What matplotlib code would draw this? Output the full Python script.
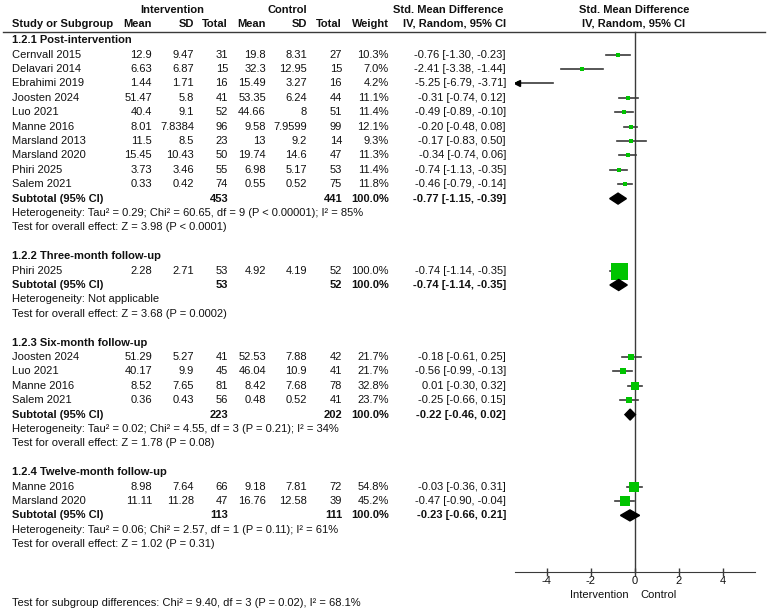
import matplotlib
matplotlib.use("Agg")
import matplotlib.pyplot as plt
from matplotlib.patches import Polygon

FONT_SIZE = 8.0
TEXT_COLOR = "#111111"
LINE_COLOR = "#3a3a3a"
BOX_COLOR = "#00c400"

# --- data -------------------------------------------------------------
subgroup_titles = ["1.2.1 Post-intervention", "1.2.2 Three-month follow-up",
                   "1.2.3 Six-month follow-up", "1.2.4 Twelve-month follow-up"]

study_names = [
    ["Cernvall 2015", "Delavari 2014", "Ebrahimi 2019", "Joosten 2024", "Luo 2021",
     "Manne 2016", "Marsland 2013", "Marsland 2020", "Phiri 2025", "Salem 2021"],
    ["Phiri 2025"],
    ["Joosten 2024", "Luo 2021", "Manne 2016", "Salem 2021"],
    ["Manne 2016", "Marsland 2020"],
]
int_mean = [["12.9", "6.63", "1.44", "51.47", "40.4", "8.01", "11.5", "15.45", "3.73", "0.33"],
            ["2.28"], ["51.29", "40.17", "8.52", "0.36"], ["8.98", "11.11"]]
int_sd = [["9.47", "6.87", "1.71", "5.8", "9.1", "7.8384", "8.5", "10.43", "3.46", "0.42"],
          ["2.71"], ["5.27", "9.9", "7.65", "0.43"], ["7.64", "11.28"]]
int_n = [[31, 15, 16, 41, 52, 96, 23, 50, 55, 74], [53], [41, 45, 81, 56], [66, 47]]
ctl_mean = [["19.8", "32.3", "15.49", "53.35", "44.66", "9.58", "13", "19.74", "6.98", "0.55"],
            ["4.92"], ["52.53", "46.04", "8.42", "0.48"], ["9.18", "16.76"]]
ctl_sd = [["8.31", "12.95", "3.27", "6.24", "8", "7.9599", "9.2", "14.6", "5.17", "0.52"],
          ["4.19"], ["7.88", "10.9", "7.68", "0.52"], ["7.81", "12.58"]]
ctl_n = [[27, 15, 16, 44, 51, 99, 14, 47, 53, 75], [52], [42, 41, 78, 41], [72, 39]]
weights = [[10.3, 7.0, 4.2, 11.1, 11.4, 12.1, 9.3, 11.3, 11.4, 11.8], [100.0],
           [21.7, 21.7, 32.8, 23.7], [54.8, 45.2]]
smd = [[-0.76, -2.41, -5.25, -0.31, -0.49, -0.20, -0.17, -0.34, -0.74, -0.46], [-0.74],
       [-0.18, -0.56, 0.01, -0.25], [-0.03, -0.47]]
ci_low = [[-1.30, -3.38, -6.79, -0.74, -0.89, -0.48, -0.83, -0.74, -1.13, -0.79], [-1.14],
          [-0.61, -0.99, -0.30, -0.66], [-0.36, -0.90]]
ci_high = [[-0.23, -1.44, -3.71, 0.12, -0.10, 0.08, 0.50, 0.06, -0.35, -0.14], [-0.35],
           [0.25, -0.13, 0.32, 0.15], [0.31, -0.04]]

sub_int_n = [453, 53, 223, 113]
sub_ctl_n = [441, 52, 202, 111]
sub_smd = [-0.77, -0.74, -0.22, -0.23]
sub_low = [-1.15, -1.14, -0.46, -0.66]
sub_high = [-0.39, -0.35, 0.02, 0.21]
heterogeneity = [
    "Heterogeneity: Tau\u00b2 = 0.29; Chi\u00b2 = 60.65, df = 9 (P < 0.00001); I\u00b2 = 85%",
    "Heterogeneity: Not applicable",
    "Heterogeneity: Tau\u00b2 = 0.02; Chi\u00b2 = 4.55, df = 3 (P = 0.21); I\u00b2 = 34%",
    "Heterogeneity: Tau\u00b2 = 0.06; Chi\u00b2 = 2.57, df = 1 (P = 0.11); I\u00b2 = 61%",
]
overall_effect = [
    "Test for overall effect: Z = 3.98 (P < 0.0001)",
    "Test for overall effect: Z = 3.68 (P = 0.0002)",
    "Test for overall effect: Z = 1.78 (P = 0.08)",
    "Test for overall effect: Z = 1.02 (P = 0.31)",
]
subgroup_diff = "Test for subgroup differences: Chi\u00b2 = 9.40, df = 3 (P = 0.02), I\u00b2 = 68.1%"

x_ticks = [-4, -2, 0, 2, 4]
x_limit = 5.45

# --- layout (pixels) ----------------------------------------------------
ROW0 = 40.2
ROW_STEP = 14.4
# right edges of the numeric columns
COLS = {"im": 152, "isd": 194, "in": 228, "cm": 266, "csd": 307, "cn": 342, "w": 389, "eff": 506}
NAME_X = 12
AXIS_Y = 572
HEADER_LINE_Y = 31.5

plt.rcParams["font.family"] = ["Liberation Sans", "DejaVu Sans"]
plt.rcParams["font.size"] = FONT_SIZE
plt.rcParams["axes.unicode_minus"] = False

fig = plt.figure(figsize=(7.67, 6.10), dpi=100)
ax = fig.add_axes([0, 0, 1, 1])
ax.set_xlim(0, 767)
ax.set_ylim(610, 0)
ax.axis("off")

# forest panel shares the pixel y scale of the table
fx0, fx1 = 515, 755
axf = fig.add_axes([fx0 / 767, 0, (fx1 - fx0) / 767, 1])
axf.set_xlim(-x_limit, x_limit)
axf.set_ylim(610, 0)
axf.patch.set_alpha(0)
for side in ["top", "left", "right"]:
    axf.spines[side].set_visible(False)
axf.spines["bottom"].set_position(("data", AXIS_Y))
axf.spines["bottom"].set_color(LINE_COLOR)
axf.set_yticks([])
axf.set_xticks(x_ticks)
axf.set_xticklabels([str(t) for t in x_ticks])
axf.tick_params(axis="x", direction="inout", length=6, width=1, color=LINE_COLOR,
                pad=0.2, labelsize=FONT_SIZE, labelcolor=TEXT_COLOR)


def txt(x, y, s, ha="right", bold=False):
    ax.text(x, y, s, ha=ha, va="center", color=TEXT_COLOR,
            fontweight="bold" if bold else "normal")


def fmt_ci(e, lo, hi):
    return f"{e:.2f} [{lo:.2f}, {hi:.2f}]"


# header
txt(172, 10, "Intervention", ha="center", bold=True)
txt(287, 10, "Control", ha="center", bold=True)
txt(448, 10, "Std. Mean Difference", ha="center", bold=True)
txt(634, 10, "Std. Mean Difference", ha="center", bold=True)
txt(NAME_X, 24, "Study or Subgroup", ha="left", bold=True)
for key, label in [("im", "Mean"), ("isd", "SD"), ("in", "Total"), ("cm", "Mean"),
                   ("csd", "SD"), ("cn", "Total"), ("w", "Weight")]:
    txt(COLS[key], 24, label, bold=True)
txt(COLS["eff"], 24, "IV, Random, 95% CI", bold=True)
txt(634, 24, "IV, Random, 95% CI", ha="center", bold=True)
ax.plot([3, 765], [HEADER_LINE_Y, HEADER_LINE_Y], color=LINE_COLOR, lw=1)

# body
row = 0
for g in range(len(subgroup_titles)):
    y = ROW0 + row * ROW_STEP
    txt(NAME_X, y, subgroup_titles[g], ha="left", bold=True)
    row += 1
    for i, name in enumerate(study_names[g]):
        y = ROW0 + row * ROW_STEP
        txt(NAME_X, y, name, ha="left")
        txt(COLS["im"], y, int_mean[g][i])
        txt(COLS["isd"], y, int_sd[g][i])
        txt(COLS["in"], y, str(int_n[g][i]))
        txt(COLS["cm"], y, ctl_mean[g][i])
        txt(COLS["csd"], y, ctl_sd[g][i])
        txt(COLS["cn"], y, str(ctl_n[g][i]))
        txt(COLS["w"], y, f"{weights[g][i]:.1f}%")
        txt(COLS["eff"], y, fmt_ci(smd[g][i], ci_low[g][i], ci_high[g][i]))
        # confidence interval, clipped to the axis with an arrow
        lo = max(ci_low[g][i], -x_limit)
        hi = min(ci_high[g][i], x_limit)
        axf.plot([lo, hi], [y, y], color=LINE_COLOR, lw=1.2, zorder=2)
        if ci_low[g][i] < -x_limit:
            axf.plot(-x_limit + 0.1, y, marker="<", ms=4, color="black", zorder=4)
        side_px = max(4, 3 + 14 * weights[g][i] / 100)
        axf.scatter([smd[g][i]], [y], marker="s", s=(side_px * 0.72) ** 2,
                    color=BOX_COLOR, linewidths=0, zorder=3)
        row += 1
    # subtotal
    y = ROW0 + row * ROW_STEP
    txt(NAME_X, y, "Subtotal (95% CI)", ha="left", bold=True)
    txt(COLS["in"], y, str(sub_int_n[g]), bold=True)
    txt(COLS["cn"], y, str(sub_ctl_n[g]), bold=True)
    txt(COLS["w"], y, "100.0%", bold=True)
    txt(COLS["eff"], y, fmt_ci(sub_smd[g], sub_low[g], sub_high[g]), bold=True)
    diamond = Polygon([(sub_low[g], y), (sub_smd[g], y - 5.5), (sub_high[g], y),
                       (sub_smd[g], y + 5.5)], closed=True, color="black", zorder=3)
    axf.add_patch(diamond)
    row += 1
    txt(NAME_X, ROW0 + row * ROW_STEP, heterogeneity[g], ha="left")
    row += 1
    txt(NAME_X, ROW0 + row * ROW_STEP, overall_effect[g], ha="left")
    row += 2

# line of no effect
axf.plot([0, 0], [HEADER_LINE_Y, AXIS_Y], color=LINE_COLOR, lw=1, zorder=1)

txt(629, 594.5, "Intervention")
txt(640, 594.5, "Control", ha="left")
txt(NAME_X, 603, subgroup_diff, ha="left")

fig.savefig("out.png", dpi=100)
